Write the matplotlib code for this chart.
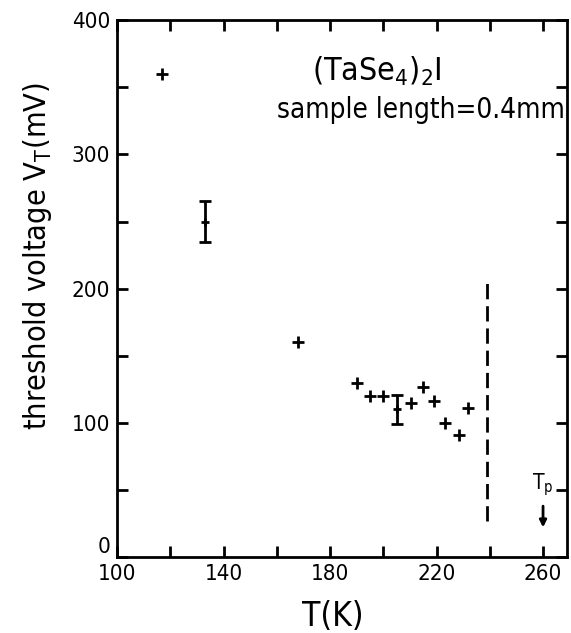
import numpy as np
from matplotlib import pyplot as plt

# single-point measurements (T in K, threshold voltage in mV)
temps = [117, 168, 190, 195, 200, 210.5, 215, 219, 223, 228.5, 232]
volts = [360, 160, 130, 120, 120, 115, 127, 116, 100, 91, 111]

# points with error bars
err_temps = [133, 205]
err_volts = [250, 110]
err_size = [15, 11]

dash_t = 239          # dashed vertical line
dash_range = [27, 205]
t_p = 260
arrow_range = [20, 40]

x_major = [100, 140, 180, 220, 260]
x_minor = [120, 160, 200, 240]
y_major = [0, 100, 200, 300, 400]
y_minor = [50, 150, 250, 350]

plt.rcParams["font.family"] = ["DejaVu Sans"]
plt.rcParams["font.stretch"] = "condensed"

fig = plt.figure(figsize=(5.71, 6.33), dpi=100)
ax = fig.add_axes([0.205, 0.12, 0.788, 0.848])

ax.plot(temps, volts, "+", color="black", markersize=8, markeredgewidth=2)
ax.errorbar(err_temps, err_volts, yerr=err_size, fmt="+", color="black",
            markersize=6, markeredgewidth=2, elinewidth=2, capsize=4, capthick=2)

ax.plot([dash_t, dash_t], dash_range, color="black",
        linestyle=(0, (5.5, 2.5)), linewidth=2)

ax.annotate("", xy=(t_p, arrow_range[0]), xytext=(t_p, arrow_range[1]),
            arrowprops=dict(arrowstyle="-|>", color="black", lw=2,
                            mutation_scale=10))
ax.text(t_p, 44, r"T$_\mathregular{p}$", ha="center", va="bottom", fontsize=15)

ax.text(0.578, 0.905, r"(TaSe$_\mathregular{4}$)$_\mathregular{2}$I",
        transform=ax.transAxes, ha="center", va="center", fontsize=23)
ax.text(0.995, 0.832, "sample length=0.4mm", transform=ax.transAxes,
        ha="right", va="center", fontsize=20)

ax.set_xlim(100, 269)
ax.set_ylim(0, 400)
ax.set_xticks(x_major)
ax.set_xticks(x_minor, minor=True)
ax.set_yticks(y_major)
ax.set_yticks(y_minor, minor=True)
ax.tick_params(which="both", direction="in", top=True, right=True,
               length=8, width=2, labelsize=16, pad=5)
ax.get_yticklabels()[0].set_verticalalignment("bottom")

for s in ax.spines.values():
    s.set_linewidth(2)

ax.set_xlabel("T(K)", fontsize=24)
ax.xaxis.set_label_coords(0.48, -0.08)
ax.set_ylabel(r"threshold voltage V$_\mathregular{T}$(mV)", fontsize=22)
ax.yaxis.set_label_coords(-0.14, 0.56)

fig.savefig("out.png", dpi=100)
